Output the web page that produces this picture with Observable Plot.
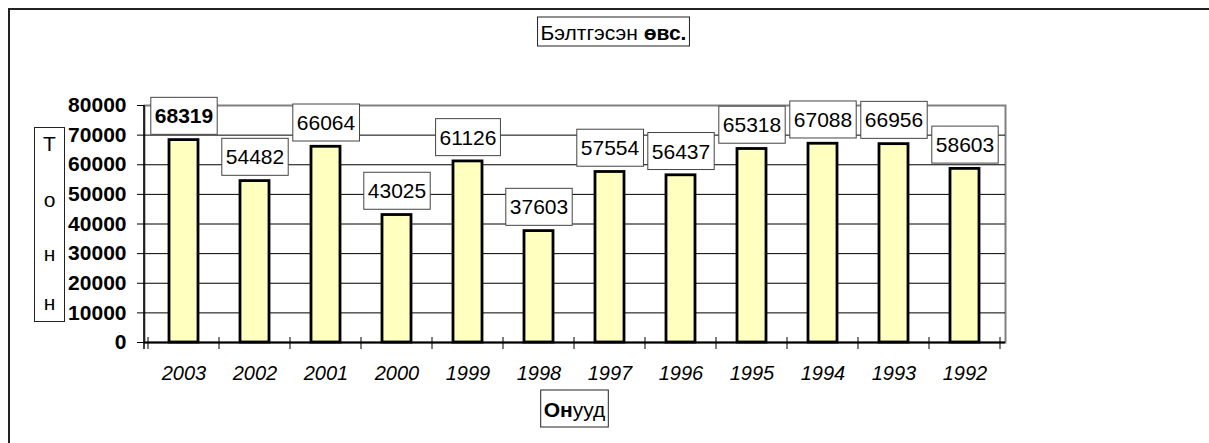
<!DOCTYPE html>
<html>
<head>
<meta charset="utf-8">
<script src="https://cdn.jsdelivr.net/npm/d3@7"></script>
<script src="https://cdn.jsdelivr.net/npm/@observablehq/plot@0.6"></script>
<style>
  html, body { margin: 0; padding: 0; background: white; }
  #chart { width: 1209px; height: 443px; }
</style>
</head>
<body>
<div id="chart"></div>
<script>
const years = ["2003","2002","2001","2000","1999","1998","1997","1996","1995","1994","1993","1992"];
const values = [68319,54482,66064,43025,61126,37603,57554,56437,65318,67088,66956,58603];
const yTicks = [0,10000,20000,30000,40000,50000,60000,70000,80000];
const titleNormal = "Бэлтгэсэн ";
const titleBold = "өвс.";
const xTitleBold = "Он";
const xTitleNormal = "ууд";
const yTitleLetters = ["Т","о","н","н"];

const data = years.map((y, i) => ({year: y, value: values[i]}));
const FONT = "Arial, 'Liberation Sans', sans-serif";

const plot = Plot.plot({
  width: 1209,
  height: 443,
  marginLeft: 144,
  marginRight: 204,
  marginTop: 105,
  marginBottom: 101,
  style: {fontFamily: FONT, background: "white", color: "black", overflow: "visible"},
  x: {domain: years, paddingInner: 0.59, paddingOuter: 0.295, label: null},
  y: {domain: [0, 80000], label: null},
  marks: [
    Plot.frame({stroke: "#808080", strokeWidth: 2}),
    Plot.ruleY(yTicks.slice(0, -1), {stroke: "black", strokeWidth: 1}),
    Plot.barY(data, {x: "year", y: "value", fill: "#FFFFC0", stroke: "black", strokeWidth: 2.8}),
    Plot.ruleY([0], {stroke: "black", strokeWidth: 2}),
    Plot.axisY({ticks: yTicks, tickSize: 7, tickPadding: 11, fontSize: 21, fontWeight: "bold", tickFormat: d => String(d)}),
    Plot.axisX({tickSize: 0, tickPadding: 23, fontSize: 20, fontStyle: "italic"}),
    Plot.text(data.slice(0, 1), {x: "year", y: "value", text: d => String(d.value), dy: -23.5, fontSize: 21, fontWeight: "bold", lineAnchor: "middle", fill: "black"}),
    Plot.text(data.slice(1), {x: "year", y: "value", text: d => String(d.value), dy: -23.5, fontSize: 21, lineAnchor: "middle", fill: "black"})
  ]
});
document.getElementById("chart").appendChild(plot);

const svg = d3.select(plot);
const xs = plot.scale("x");
const ys = plot.scale("y");
const x0 = xs.range[0], x1 = xs.range[1];
const yBase = ys.apply(0), yTop = ys.apply(80000);

// boxes behind value labels
svg.selectAll('g[aria-label="text"] text').each(function() {
  const bb = this.getBBox();
  const cy = bb.y + bb.height / 2;
  const r = document.createElementNS("http://www.w3.org/2000/svg", "rect");
  r.setAttribute("x", bb.x - 4);
  r.setAttribute("y", cy - 18.5);
  r.setAttribute("width", bb.width + 8);
  r.setAttribute("height", 37);
  r.setAttribute("fill", "white");
  r.setAttribute("stroke", "#444");
  r.setAttribute("stroke-width", 1);
  const t = this.getAttribute("transform");
  if (t) r.setAttribute("transform", t);
  this.parentNode.insertBefore(r, this);
});

const g = svg.append("g").attr("font-family", FONT).attr("fill", "black");

// left axis line
g.append("line").attr("x1", x0).attr("x2", x0).attr("y1", yTop).attr("y2", yBase + 7)
  .attr("stroke", "black").attr("stroke-width", 1.5);
// category boundary ticks
const gap = (xs.step - xs.bandwidth) / 2;
const bounds = years.map(y => xs.apply(y) - gap).concat([xs.apply(years[years.length - 1]) + xs.bandwidth + gap]);
bounds.forEach(b => {
  g.append("line").attr("x1", b).attr("x2", b).attr("y1", yBase - 5).attr("y2", yBase + 7)
    .attr("stroke", "black").attr("stroke-width", 1);
});

// outer border (top & left visible)
g.append("path").attr("d", "M9,443 L9,9 L1209,9").attr("fill", "none").attr("stroke", "#222").attr("stroke-width", 2);

function boxedText(cx, cy, parts, size, padX, h) {
  const grp = g.append("g");
  const t = grp.append("text").attr("x", cx).attr("y", cy).attr("text-anchor", "middle")
    .attr("dominant-baseline", "central").attr("font-size", size);
  parts.forEach(p => t.append("tspan").attr("font-weight", p[1] ? "bold" : "normal").text(p[0]));
  const bb = t.node().getBBox();
  grp.insert("rect", "text").attr("x", bb.x - padX).attr("y", cy - h / 2)
    .attr("width", bb.width + 2 * padX).attr("height", h)
    .attr("fill", "white").attr("stroke", "#222").attr("stroke-width", 1);
}

// chart title
boxedText(613.5, 31.5, [[titleNormal, false], [titleBold, true]], 21, 3, 29);
// x title
boxedText((x0 + x1) / 2, 408.5, [[xTitleBold, true], [xTitleNormal, false]], 21, 3, 37);

// y title: stacked letters in a box
g.append("rect").attr("x", 34.5).attr("y", 127.5).attr("width", 30).attr("height", 194)
  .attr("fill", "white").attr("stroke", "#222").attr("stroke-width", 1);
const letterY = [143, 199, 253, 302];
yTitleLetters.forEach((ch, i) => {
  g.append("text").attr("x", 49.5).attr("y", letterY[i]).attr("text-anchor", "middle")
    .attr("dominant-baseline", "central").attr("font-size", 21).text(ch);
});
</script>
</body>
</html>
